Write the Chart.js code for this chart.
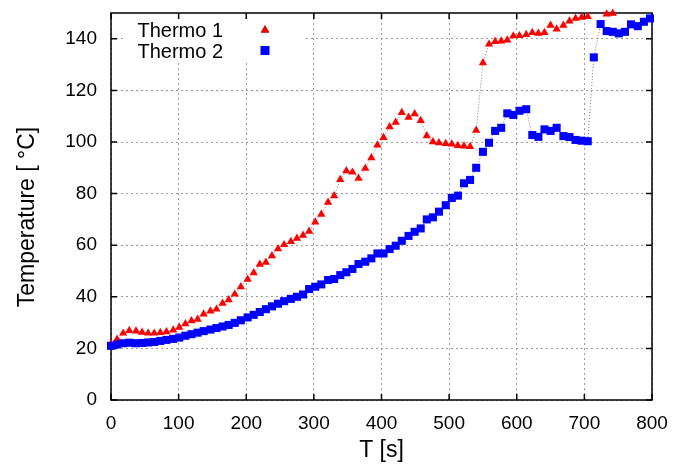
<!DOCTYPE html>
<html>
<head>
<meta charset="utf-8">
<script src="https://cdn.jsdelivr.net/npm/chart.js@4.4.0/dist/chart.umd.min.js"></script>
<style>
  html, body { margin: 0; padding: 0; background: #fff; }
</style>
</head>
<body>
<canvas id="tempChart" width="690" height="464"></canvas>
<script>
// sample times [s]
const times = [
  0, 9, 18, 27, 37, 46, 55, 64, 73, 82,
  92, 101, 110, 119, 128, 137, 147, 156, 165, 174,
  183, 192, 202, 211, 220, 229, 238, 247, 256, 266,
  275, 284, 293, 302, 311, 321, 330, 339, 348, 357,
  366, 376, 385, 394, 403, 412, 421, 430, 440, 449,
  458, 467, 476, 485, 495, 504, 513, 522, 531, 540,
  550, 559, 568, 577, 586, 595, 604, 614, 623, 632,
  641, 650, 659, 669, 678, 687, 696, 705, 714, 724,
  733, 742, 751, 760, 769, 779, 788, 797
];

// Thermo 1 (values above 150 are off the plot)
const thermo1 = [
  21.8, 23.5, 25.9, 26.9, 26.7, 26.2, 25.9, 25.9, 26.1, 26.4,
  27.1, 28.2, 29.5, 30.7, 31.3, 33.3, 34.5, 35.2, 37.5, 38.8,
  41.0, 43.9, 46.8, 49.3, 52.6, 53.4, 55.9, 58.6, 60.2, 61.4,
  62.7, 63.8, 65.4, 69.0, 72.0, 76.6, 79.1, 85.4, 88.8, 88.3,
  85.9, 89.8, 93.9, 98.8, 101.7, 105.9, 107.6, 111.4, 109.6, 110.9,
  108.3, 102.4, 100.1, 99.7, 99.4, 99.2, 98.6, 98.4, 98.2, 104.5,
  130.7, 137.9, 138.9, 139.1, 139.5, 141.1, 141.2, 141.6, 142.4, 142.1,
  142.4, 145.2, 143.8, 145.2, 146.9, 147.9, 148.3, 148.6, null, null,
  149.6, 149.9
];

// Thermo 2
const thermo2 = [
  21.0, 21.5, 22.0, 22.2, 22.0, 22.1, 22.3, 22.5, 22.9, 23.3,
  23.7, 24.2, 24.9, 25.5, 26.1, 26.7, 27.3, 27.9, 28.5, 29.1,
  29.9, 30.9, 32.0, 33.0, 34.1, 35.2, 36.3, 37.3, 38.3, 39.2,
  40.0, 40.9, 43.0, 43.9, 44.8, 46.5, 46.9, 48.4, 49.5, 50.8,
  52.7, 53.6, 54.9, 56.8, 56.8, 58.5, 59.8, 61.7, 63.6, 65.2,
  66.5, 70.0, 70.8, 73.0, 75.5, 78.3, 79.2, 84.0, 85.3, 90.0,
  96.2, 99.7, 104.3, 105.5, 111.1, 110.5, 112.1, 112.7, 102.7, 102.0,
  104.9, 104.3, 105.5, 102.3, 101.9, 100.8, 100.5, 100.3, 132.8, 145.7,
  143.0, 142.7, 142.1, 142.7, 145.6, 144.9, 146.6, 147.9
];

const xTicks = [0, 100, 200, 300, 400, 500, 600, 700, 800];
const yTicks = [0, 20, 40, 60, 80, 100, 120, 140];

const FONT = "'Liberation Sans', Arial, Helvetica, sans-serif";

function toPoints(vals) {
  return vals.map((v, i) => ({ x: times[i], y: v }));
}

// white legend box, frame and inward ticks (under the data)
const framePlugin = {
  id: 'frame',
  beforeDatasetsDraw(chart) {
    const { ctx, chartArea: a, scales: { x, y } } = chart;
    ctx.save();
    ctx.fillStyle = '#fff';
    ctx.fillRect(124, a.top + 0.8, 182, 47);
    ctx.strokeStyle = '#000';
    ctx.lineWidth = 1.5;
    ctx.strokeRect(a.left, a.top, a.right - a.left, a.bottom - a.top);
    ctx.beginPath();
    xTicks.forEach(t => {
      const px = x.getPixelForValue(t);
      ctx.moveTo(px, a.bottom); ctx.lineTo(px, a.bottom - 6);
      ctx.moveTo(px, a.top); ctx.lineTo(px, a.top + 6);
    });
    yTicks.forEach(t => {
      const py = y.getPixelForValue(t);
      ctx.moveTo(a.left, py); ctx.lineTo(a.left + 6, py);
      ctx.moveTo(a.right, py); ctx.lineTo(a.right - 6, py);
    });
    ctx.stroke();
    ctx.restore();
  },
  afterDatasetsDraw(chart) {
    const { ctx } = chart;
    ctx.save();
    ctx.fillStyle = '#000';
    ctx.font = '20px ' + FONT;
    ctx.textAlign = 'right';
    ctx.textBaseline = 'alphabetic';
    ctx.fillText('Thermo 1', 223, 37);
    ctx.fillText('Thermo 2', 223, 58);
    Chart.helpers.drawPoint(ctx, { pointStyle: 'triangle', radius: 4.8, borderWidth: 0 }, 265, 30);
    ctx.fillStyle = '#ff0000';
    ctx.fill();
    ctx.fillStyle = '#0000ff';
    ctx.fillRect(260.5, 46, 9, 9);
    // y axis title
    ctx.fillStyle = '#000';
    ctx.font = '23px ' + FONT;
    ctx.textAlign = 'center';
    ctx.textBaseline = 'middle';
    ctx.translate(28, 217);
    ctx.rotate(-Math.PI / 2);
    ctx.fillText('Temperature [ °C]', 0, 0);
    ctx.restore();
  }
};

const ctx = document.getElementById('tempChart').getContext('2d');
const tempChart = new Chart(ctx, {
  type: 'scatter',
  data: {
    datasets: [
      {
        label: 'Thermo 2',
        data: toPoints(thermo2),
        showLine: true,
        borderColor: '#777',
        borderWidth: 1,
        borderDash: [1, 2],
        pointStyle: 'rect',
        pointRadius: 5.7,
        pointBorderWidth: 0,
        pointBackgroundColor: '#0000ff',
        pointBorderColor: '#0000ff',
        clip: false,
        order: 0
      },
      {
        label: 'Thermo 1',
        data: toPoints(thermo1),
        showLine: true,
        spanGaps: false,
        borderColor: '#777',
        borderWidth: 1,
        borderDash: [1, 2],
        pointStyle: 'triangle',
        pointRadius: 4.8,
        pointBorderWidth: 0,
        pointBackgroundColor: '#ff0000',
        pointBorderColor: '#ff0000',
        clip: false,
        order: 1
      }
    ]
  },
  options: {
    responsive: false,
    animation: false,
    devicePixelRatio: 1,
    layout: { padding: { top: 13, right: 38, left: 0, bottom: 0 } },
    plugins: {
      legend: { display: false },
      tooltip: { enabled: false }
    },
    scales: {
      x: {
        type: 'linear',
        min: 0,
        max: 800,
        afterBuildTicks: s => { s.ticks = xTicks.map(v => ({ value: v })); },
        afterFit: s => { s.height = 64; s.paddingLeft = 0; s.paddingRight = 0; },
        grid: { color: '#9a9a9a', lineWidth: 1, drawTicks: false },
        border: { display: false, dash: [2, 3] },
        ticks: { color: '#000', padding: 12, font: { family: FONT, size: 19 } },
        title: {
          display: true,
          text: 'T [s]',
          color: '#000',
          font: { family: FONT, size: 23 },
          padding: { top: 0, bottom: 0 }
        }
      },
      y: {
        type: 'linear',
        min: 0,
        max: 150,
        afterBuildTicks: s => { s.ticks = yTicks.map(v => ({ value: v })); },
        afterFit: s => { s.width = 111; s.paddingTop = 0; s.paddingBottom = 0; },
        grid: { color: '#9a9a9a', lineWidth: 1, drawTicks: false },
        border: { display: false, dash: [2, 3] },
        ticks: { color: '#000', padding: 14, font: { family: FONT, size: 19 } }
      }
    }
  },
  plugins: [framePlugin]
});
</script>
</body>
</html>
